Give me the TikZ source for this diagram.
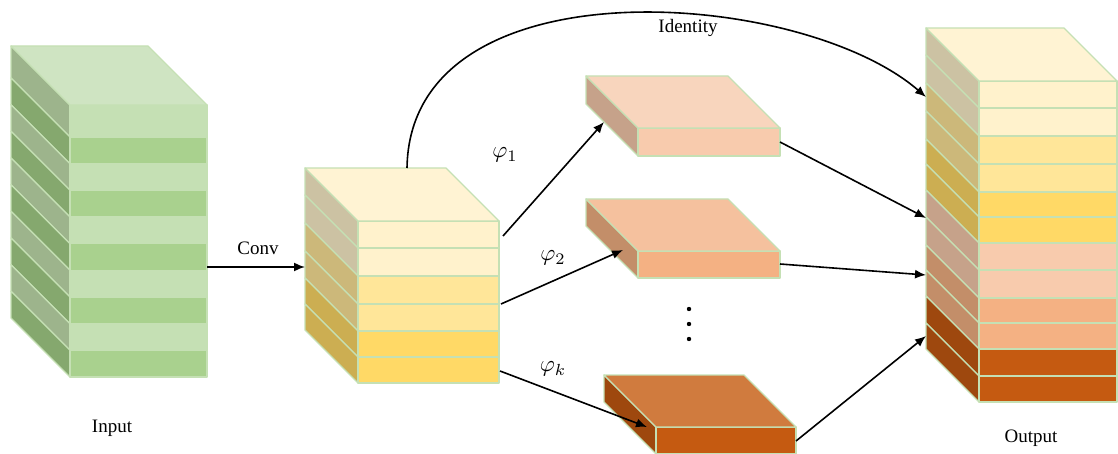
\documentclass[tikz,border=0pt]{standalone}
\usepackage{fontspec}
\setmainfont{Liberation Serif}
\usetikzlibrary{arrows.meta}

\definecolor{edgegreen}{HTML}{C5E0B4}
\definecolor{gtop}{HTML}{CFE4C2}
\definecolor{glight}{HTML}{C5E0B4}
\definecolor{gdark}{HTML}{A9D18E}
\definecolor{glightside}{HTML}{9DB48C}
\definecolor{gdarkside}{HTML}{85A86E}
\definecolor{cream}{HTML}{FFF2CC}
\definecolor{creamtop}{HTML}{FFF3D3}
\definecolor{creamside}{HTML}{CCC2A3}
\definecolor{yellow}{HTML}{FFE699}
\definecolor{yellowside}{HTML}{CCB87A}
\definecolor{gold}{HTML}{FFD966}
\definecolor{goldside}{HTML}{CCAE52}
\definecolor{peach}{HTML}{F8CBAD}
\definecolor{peachtop}{HTML}{F8D5BD}
\definecolor{peachside}{HTML}{C6A28A}
\definecolor{apricot}{HTML}{F4B183}
\definecolor{apricottop}{HTML}{F5C19E}
\definecolor{apricotside}{HTML}{C38E69}
\definecolor{rust}{HTML}{C55A11}
\definecolor{rusttop}{HTML}{D07B3E}
\definecolor{rustside}{HTML}{9E480E}

% one layer: front left, front right, top, bottom, depth, front colour, side colour
\newcommand{\slab}[7]{%
  \filldraw[face,fill=#7] ({#1-#5},{#3-#5}) -- (#1,#3) -- (#1,#4) -- ({#1-#5},{#4-#5}) -- cycle;
  \filldraw[face,fill=#6] (#1,#3) rectangle (#2,#4);}
% top face: front left, front right, top, depth, colour
\newcommand{\slabtop}[5]{%
  \filldraw[face,fill=#5] ({#1-#4},{#3-#4}) -- ({#2-#4},{#3-#4}) -- (#2,#3) -- (#1,#3) -- cycle;}
% branch label
\newcommand{\branchlabel}[1]{\scalebox{2.3}{$\varphi_{#1}$}}

\begin{document}
\begin{tikzpicture}[x=1pt,y=-1pt,font=\fontsize{19}{22}\selectfont,line join=round,
  face/.style={draw=edgegreen,line width=1.3pt},
  link/.style={-{Latex[length=11pt,width=9pt]},line width=1.6pt},
  branch/.style={font=\fontsize{10}{12}\selectfont}]
\useasboundingbox (0,0) rectangle (1118,454);

% input tensor
\foreach \t/\b/\fc/\sc in {105/137/glight/glightside,137/163.7/gdark/gdarkside,163.7/190.3/glight/glightside,
  190.3/217/gdark/gdarkside,217/243.7/glight/glightside,243.7/270.3/gdark/gdarkside,270.3/297/glight/glightside,
  297/323.7/gdark/gdarkside,323.7/350.3/glight/glightside,350.3/377/gdark/gdarkside}
  {\slab{70}{207}{\t}{\b}{59}{\fc}{\sc}}
\slabtop{70}{207}{105}{59}{gtop}

% feature after conv
\foreach \t/\b/\fc/\sc in {221/248/cream/creamside,248/276/cream/creamside,276/304/yellow/yellowside,
  304/331/yellow/yellowside,331/357/gold/goldside,357/383/gold/goldside}
  {\slab{358}{499}{\t}{\b}{53}{\fc}{\sc}}
\slabtop{358}{499}{221}{53}{creamtop}

% branch outputs
\slab{638}{780}{128}{156}{52}{peach}{peachside}
\slabtop{638}{780}{128}{52}{peachtop}
\slab{638}{780}{251}{278}{52}{apricot}{apricotside}
\slabtop{638}{780}{251}{52}{apricottop}
\slab{656}{796}{427}{454}{52}{rust}{rustside}
\slabtop{656}{796}{427}{52}{rusttop}

% concatenated output
\foreach \t/\b/\fc/\sc in {81/108/cream/creamside,108/136/cream/creamside,136/164/yellow/yellowside,
  164/192/yellow/yellowside,192/217/gold/goldside,217/243/gold/goldside,243/270/peach/peachside,
  270/298/peach/peachside,298/323/apricot/apricotside,323/349/apricot/apricotside,349/376/rust/rustside,
  376/402/rust/rustside}
  {\slab{979}{1117}{\t}{\b}{53}{\fc}{\sc}}
\slabtop{979}{1117}{81}{53}{creamtop}

% anchor points
\coordinate (in-r) at (207,267);
\coordinate (mid-l) at (305,267);
\coordinate (mid-top) at (407,168);
\coordinate (mid-r1) at (503,236);
\coordinate (mid-r2) at (501,304);
\coordinate (mid-r3) at (500,371);
\coordinate (b1-l) at (604,122);
\coordinate (b2-l) at (623,250);
\coordinate (b3-l) at (647,427);
\coordinate (b1-r) at (780,142);
\coordinate (b2-r) at (780,264);
\coordinate (b3-r) at (796,441);
\coordinate (out-id) at (926,97);
\coordinate (out-1) at (926,218);
\coordinate (out-2) at (926,275);
\coordinate (out-3) at (926,336);

\draw[link] (in-r) -- (mid-l);
\draw[link] (mid-top) .. controls (410,-40) and (800,-12) .. (out-id);
\draw[link] (mid-r1) -- (b1-l);
\draw[link] (mid-r2) -- (b2-l);
\draw[link] (mid-r3) -- (b3-l);
\draw[link] (b1-r) -- (out-1);
\draw[link] (b2-r) -- (out-2);
\draw[link] (b3-r) -- (out-3);

\foreach \y in {309,324,339} \fill (689,\y) circle (2.2);

\node (conv) at (258,248) {Conv};
\node (ident) at (688,28) {Identity};
\node[branch] (phi1) at (505,155) {\branchlabel{1}};
\node[branch] (phi2) at (553,258) {\branchlabel{2}};
\node[branch] (phik) at (553,369) {\branchlabel{k}};
\node (inlab) at (112,428) {Input};
\node (outlab) at (1031,438) {Output};
\end{tikzpicture}
\end{document}
